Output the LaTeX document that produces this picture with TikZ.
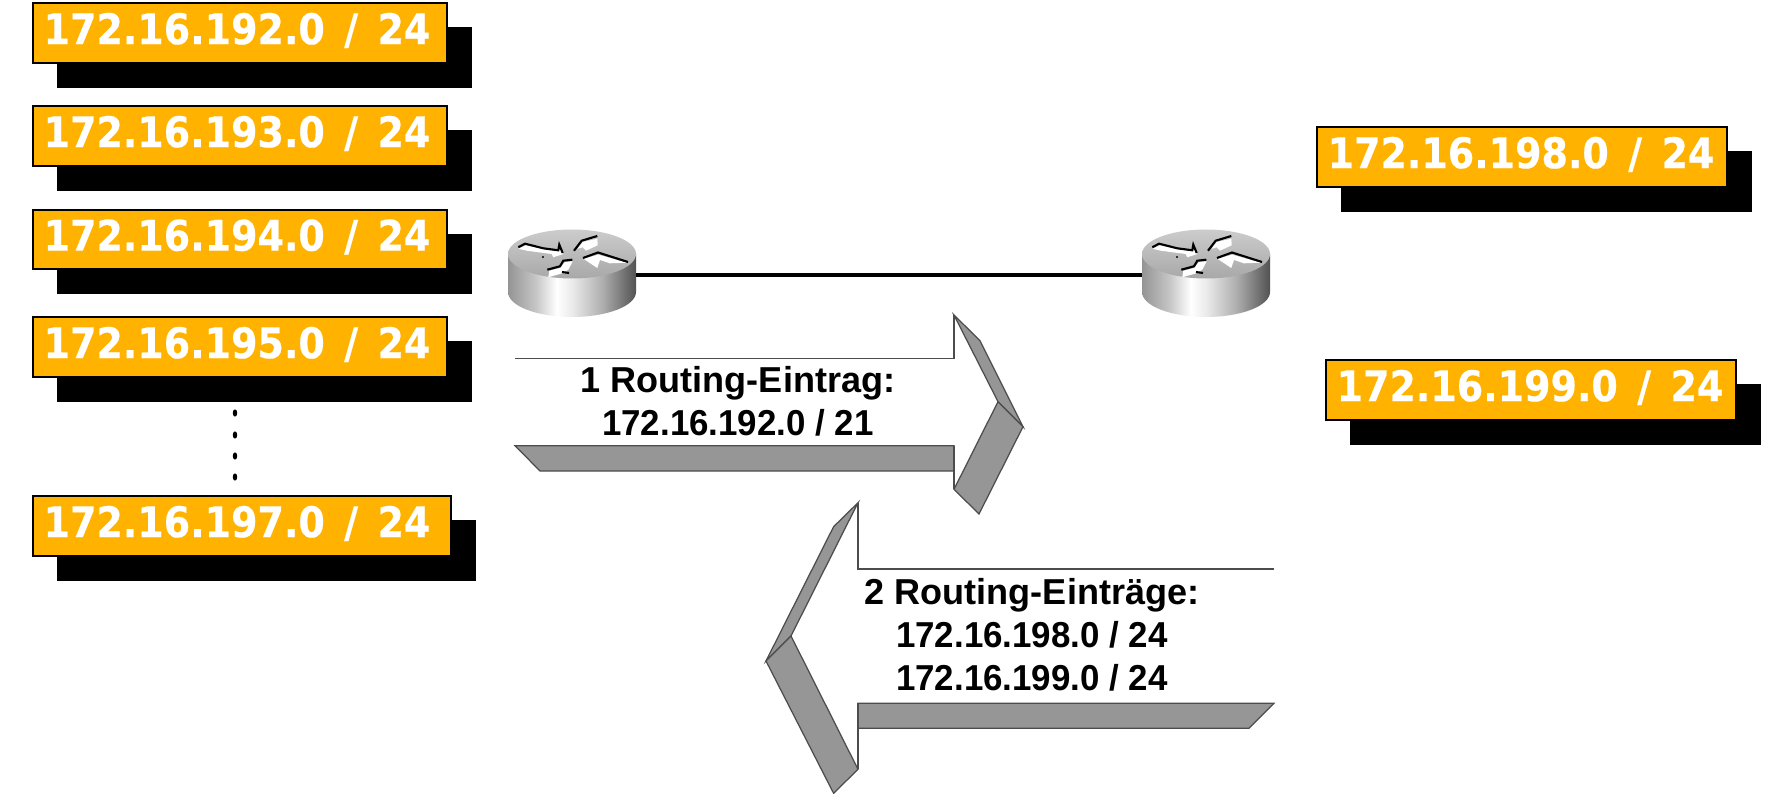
\documentclass[tikz,border=0pt]{standalone}
\usepackage{fontspec}
\setmainfont{DejaVu Sans}[FakeStretch=0.90,WordSpace=1.47,BoldFeatures={FakeBold=0.4}]
\newfontfamily\arialb{Liberation Sans}
\newfontfamily\arialn{Liberation Sans}[FakeStretch=0.968]
\definecolor{boxorange}{HTML}{FFB300}
\definecolor{facet}{HTML}{969696}
\pgfdeclarehorizontalshading{routerside}{100bp}{color(0bp)=(black!42);color(25bp)=(black!42);color(36bp)=(black!22);color(44bp)=(white);color(50bp)=(black!8);color(62bp)=(black!32);color(75bp)=(black!68);color(100bp)=(black!68)}
\tikzset{
  x=0.01cm,y=-0.01cm,
  netbox/.style={draw=black,line width=0.6pt,fill=boxorange,inner sep=0pt,text=white,anchor=north west,text height=9pt,text depth=2.7pt,font=\bfseries\fontsize{12}{14}\selectfont},
  shadowbox/.style={fill=black},
  facetpoly/.style={draw=black!70,fill=facet,line width=0.35pt},
  arrowline/.style={draw=black!70,line width=0.35pt},
  arrowtext/.style={align=center,font=\arialb\bfseries\fontsize{10.25}{12.2}\selectfont,text=black,inner sep=0pt},
  linktrunk/.style={line width=1pt,black},
  routerface/.style={fill=white},
  routerink/.style={line width=0.6pt,black}
}
\newcommand{\netnet}[6]{%
  \fill[shadowbox] (#1+25,#2+25) rectangle (#3+26,#4+26);
  \node[netbox,minimum width=#3*0.2845pt-#1*0.2845pt,minimum height=#4*0.2845pt-#2*0.2845pt] (#5) at (#1,#2) {\kern-1.8pt #6};}
\newcommand{\routerdraw}[2]{%
  \begin{scope}[shift={(#1,0)}]
    \coordinate (#2w) at (508,275);
    \coordinate (#2e) at (636,275);
    \shade[shading=routerside] (508,254) -- (508,292) arc[start angle=180,end angle=0,x radius=64,y radius=25] -- (636,254) -- cycle;
    \shade[top color=black!20,bottom color=black!34] (572,254) ellipse[x radius=64,y radius=24.5];
    \fill[routerface] (518.3,248.7) -- (526,245.3) -- (543.3,249.3) -- (558.3,251.3) -- (560,247.3) -- (563.3,254) -- (553.3,257.3) -- (551.7,254) -- (526.7,250.7) -- cycle;
    \draw[routerink] (518.3,247.3) -- (525,243.7) -- (543.3,248.3) -- (558.3,250.3) -- (559.3,244.7) -- (562.7,253);
    \fill[black] (543,257) circle[radius=1.2];
    \fill[routerface] (577.7,248.7) -- (582.7,242) -- (597.3,238.7) -- (597.7,245.3) -- (586,250.7) -- (582.7,247.3) -- cycle;
    \draw[routerink] (574,250.7) -- (581.7,240.7) -- (597.3,236);
    \fill[routerface] (583.3,258.7) -- (598.3,254.7) -- (627.3,262.7) -- (610,263.3) -- (600,260) -- (597.3,268) -- cycle;
    \draw[routerink] (583,258) -- (598,252.5) -- (628,262);
    \fill[routerface] (549.3,270.7) -- (560,268) -- (565,262) -- (572.7,261.3) -- (568.3,269.7) -- (563.3,273) -- (548.3,277.3) -- cycle;
    \draw[routerink] (547.3,269.7) -- (560,266.3) -- (563.3,260.7) -- (572.3,259.7);
    \draw[routerink] (562,272) -- (569,273);
  \end{scope}}
\begin{document}
\begin{tikzpicture}
\useasboundingbox (0,0) rectangle (1778,794);
\netnet{32}{2}{446}{62}{n192}{172.16.192.0 / 24}
\netnet{32}{105}{446}{165}{n193}{172.16.193.0 / 24}
\netnet{32}{209}{446}{268}{n194}{172.16.194.0 / 24}
\netnet{32}{316}{446}{376}{n195}{172.16.195.0 / 24}
\netnet{32}{495}{450}{555}{n197}{\kern-1.14pt 172.16.197.0 / 24}
\netnet{1316}{126}{1726}{186}{n198}{\kern1.14pt 172.16.198.0 / 24}
\netnet{1325}{359}{1735}{419}{n199}{\kern1.14pt 172.16.199.0 / 24}
\foreach \yy in {413,435,456,477}
  \fill[black] (235,\yy) ellipse[x radius=2.2,y radius=3.6];
\routerdraw{0}{ra}
\routerdraw{634}{rb}
\draw[linktrunk] (rae) -- (rbw);
% arrow 1
\draw[arrowline] (515,358.3) -- (954,358.3) -- (954,315);
\draw[facetpoly] (515,445.7) -- (954,445.7) -- (954,471) -- (540,471) -- cycle;
\draw[facetpoly] (954,315) -- (980,340.7) -- (1023,426.7) -- (998,401.7) -- cycle;
\draw[facetpoly] (998,401.7) -- (1023,426.7) -- (979,514) -- (954,489.3) -- cycle;
\draw[arrowline] (954,445.7) -- (954,489.3);
\node[arrowtext] (t1) at (738,401) {1 Routing-Eintrag:\\{\arialn 172.16.192.0 / 21}};
% arrow 2
\draw[arrowline] (1274,569) -- (858,569) -- (858,502.7);
\draw[facetpoly] (858,703.3) -- (1274,703.3) -- (1249,728.3) -- (858,728.3) -- cycle;
\draw[facetpoly] (858,502.7) -- (833.6,526.7) -- (766,661) -- (791,636) -- cycle;
\draw[facetpoly] (766,661) -- (791,636) -- (858,769.3) -- (833.6,793.3) -- cycle;
\draw[arrowline] (858,703.3) -- (858,769.3);
\node[arrowtext] (t2) at (1032,635) {2 Routing-Einträge:\\{\arialn 172.16.198.0 / 24}\\{\arialn 172.16.199.0 / 24}};
\end{tikzpicture}
\end{document}
